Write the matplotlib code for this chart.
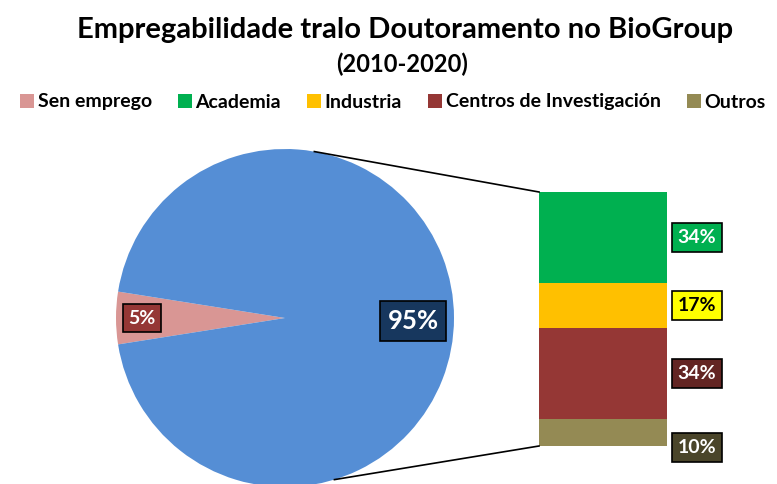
import numpy as np
import matplotlib
matplotlib.use("Agg")
import matplotlib.pyplot as plt
from matplotlib.lines import Line2D

plt.rcParams['font.family'] = ['Lato', 'DejaVu Sans']
plt.rcParams['font.weight'] = 'bold'

# data
pieLabels = ["Sen emprego", "Empregados"]
pieValues = [5, 95]
pieColors = ["#D99694", "#558ED5"]
pieBoxColors = ["#953735", "#17375E"]

barLabels = ["Academia", "Industria", "Centros de Investigación", "Outros"]
barValues = [34, 17, 34, 10]
barColors = ["#00B050", "#FFC000", "#953735", "#948A54"]
barBoxColors = ["#00B050", "#FFFF00", "#632523", "#4A452A"]
barTextColors = ["white", "black", "white", "white"]

W, H = 777, 484
fig = plt.figure(figsize=(W / 100, H / 100), dpi=100)
ax = fig.add_axes([0, 0, 1, 1])

# pie
cx, cy, r = 285, 166, 169
startAngle = 180 - pieValues[0] / 100 * 360 / 2
ax.pie(pieValues, colors=pieColors, startangle=startAngle, center=(cx, cy),
       radius=r, frame=True, wedgeprops=dict(linewidth=0))
ax.set_xlim(0, W)
ax.set_ylim(0, H)
ax.set_aspect("equal")
ax.axis("off")

boxStyle = dict(boxstyle="square,pad=0.3", edgecolor="black", linewidth=1.2)
ax.text(142, 166, "{}%".format(pieValues[0]), ha="center", va="center",
        fontsize=14, color="white",
        bbox=dict(facecolor=pieBoxColors[0], **boxStyle))
ax.text(413, 163, "{}%".format(pieValues[1]), ha="center", va="center",
        fontsize=18.5, color="white",
        bbox=dict(facecolor=pieBoxColors[1], **boxStyle))

# bar of pie
barX, barW, barBottom = 539, 128, 38
scale = 254 / sum(barValues)
heights = np.array(barValues[::-1]) * scale
bottoms = barBottom + np.concatenate([[0], np.cumsum(heights)[:-1]])
ax.bar([barX] * len(heights), heights, width=barW, bottom=bottoms,
       color=barColors[::-1], align="edge", linewidth=0)

centers = (bottoms + heights / 2)[::-1]
offsets = [0, 0, 0, -15]
for i, lab in enumerate(barValues):
    ax.text(697, centers[i] + offsets[i], "{}%".format(lab), ha="center", va="center",
            fontsize=14, color=barTextColors[i],
            bbox=dict(facecolor=barBoxColors[i], **boxStyle))

# connector lines
barTop = barBottom + heights.sum()
a1, a2 = np.deg2rad(80), np.deg2rad(-73)
ax.plot([cx + r * np.cos(a1), barX], [cy + r * np.sin(a1), barTop], color="black", lw=1.2)
ax.plot([cx + r * np.cos(a2), barX], [cy + r * np.sin(a2), barBottom], color="black", lw=1.2)

# title
fig.text(405 / W, 1 - 30 / H, "Empregabilidade tralo Doutoramento no BioGroup",
         ha="center", va="center", fontsize=21)
fig.text(402 / W, 1 - 64 / H, "(2010-2020)", ha="center", va="center", fontsize=17)

# legend
legLabels = [pieLabels[0]] + barLabels
legColors = [pieColors[0]] + barColors
handles = [Line2D([], [], marker="s", linestyle="none", markersize=10,
                  markerfacecolor=c, markeredgewidth=0) for c in legColors]
fig.legend(handles, legLabels, loc="center", bbox_to_anchor=(392 / W, 1 - 102 / H),
           ncol=5, frameon=False, fontsize=14, handletextpad=0.1,
           columnspacing=1.25, handlelength=0.9)

fig.savefig("out.png", dpi=100)
